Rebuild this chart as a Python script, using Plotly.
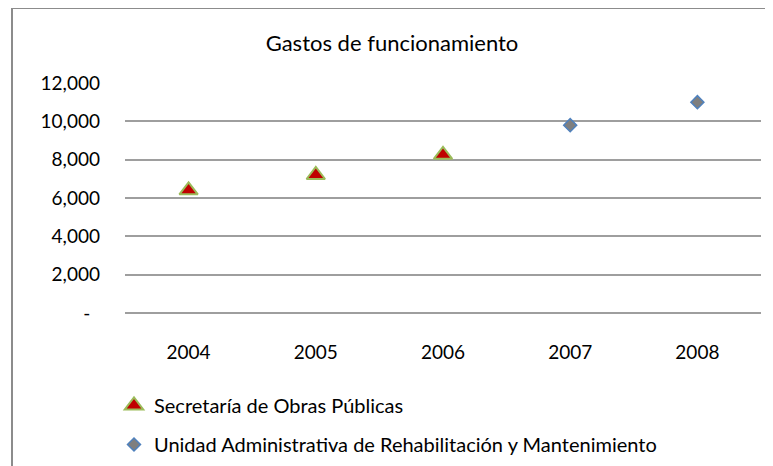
import plotly.graph_objects as go

# Gastos de funcionamiento
years = ["2004", "2005", "2006", "2007", "2008"]
sop_years = ["2004", "2005", "2006"]
sop_values = [6400, 7200, 8250]
uarm_years = ["2007", "2008"]
uarm_values = [9800, 11000]

y_ticks = [0, 2000, 4000, 6000, 8000, 10000, 12000]
y_labels = ["-  ", "2,000", "4,000", "6,000", "8,000", "10,000", "12,000"]

FONT = "Lato, 'Open Sans', sans-serif"

# the page puts the figure 8px in from the top-left corner
W, H = 765, 458
L, T = 117, 75
PW, PH = 636, 230

fig = go.Figure()

fig.add_trace(go.Scatter(
    x=sop_years,
    y=sop_values,
    mode="markers",
    name="Secretaría de Obras Públicas",
    legendgroup="sop",
    marker=dict(symbol="triangle-up", size=16, color="#C00000",
                line=dict(color="#9BBB59", width=2)),
))

fig.add_trace(go.Scatter(
    x=uarm_years,
    y=uarm_values,
    mode="markers",
    name="Unidad Administrativa de Rehabilitación y Mantenimiento",
    legendgroup="uarm",
    marker=dict(symbol="diamond", size=10, color="#7F7F7F",
                line=dict(color="#4F81BD", width=1.5)),
))

# outer chart border (cut off at right and bottom like the original)
fig.add_shape(
    type="rect", xref="paper", yref="paper",
    x0=(4 - L) / PW, x1=1.05, y0=-0.75, y1=(T + PH) / PH,
    line=dict(color="#8C8C8C", width=2),
    fillcolor="rgba(0,0,0,0)", layer="below",
)

fig.update_layout(
    width=W,
    height=H,
    margin=dict(l=L, r=W - L - PW, t=T, b=H - T - PH, autoexpand=False),
    paper_bgcolor="white",
    plot_bgcolor="white",
    font=dict(family=FONT, size=17, color="black"),
    title=dict(text="Gastos de funcionamiento", x=384 / W, xanchor="center",
               y=1 - 35 / H, yanchor="middle",
               font=dict(family=FONT, size=22, color="black")),
    showlegend=True,
    legend=dict(
        x=(114 - 125) / PW, xanchor="left",
        y=(313 - 386) / PH, yanchor="top",
        font=dict(family=FONT, size=20, color="black"),
        tracegroupgap=10,
        itemwidth=30,
        bgcolor="rgba(0,0,0,0)",
    ),
    xaxis=dict(
        type="category",
        categoryarray=years,
        range=[-0.5, 4.5],
        showgrid=False,
        showline=False,
        zeroline=False,
        ticks="",
        ticklabelstandoff=26,
        tickfont=dict(family=FONT, size=19),
    ),
    yaxis=dict(
        range=[0, 12000],
        tickvals=y_ticks,
        ticktext=y_labels,
        showgrid=True,
        gridcolor="#9E9E9E",
        gridwidth=2,
        zeroline=True,
        zerolinecolor="#9E9E9E",
        zerolinewidth=2,
        showline=False,
        ticks="",
        ticklabelstandoff=24,
        tickfont=dict(family=FONT, size=19),
    ),
)

fig.write_html("out.html")
